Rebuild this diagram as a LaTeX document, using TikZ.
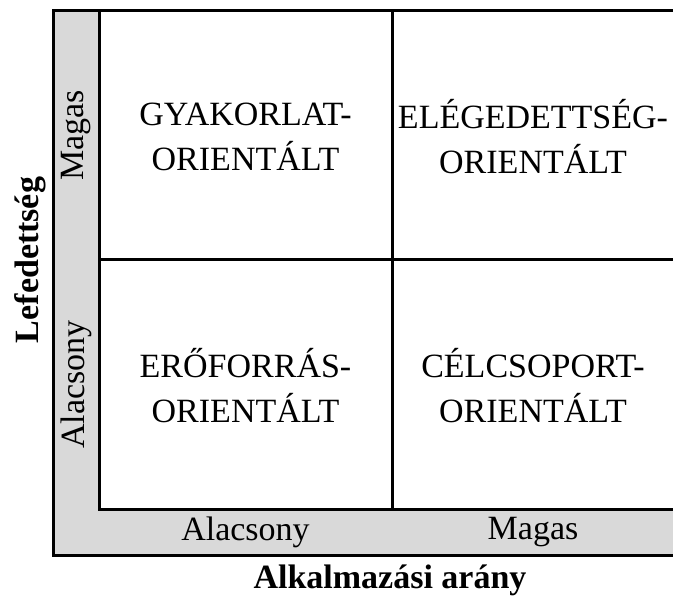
\documentclass[tikz,border=0pt]{standalone}
\usepackage{fontspec}
\setmainfont{Liberation Serif}
\definecolor{bandgray}{RGB}{217,217,217}
\begin{document}
\begin{tikzpicture}[x=1pt,y=-1pt]
\tikzstyle{frame} = [line width=3pt, line cap=rect]
\tikzstyle{cell} = [align=center, inner sep=0pt, font=\fontsize{34}{45}\selectfont]
\tikzstyle{axis} = [inner sep=0pt, font=\fontsize{34}{40}\selectfont]
\tikzstyle{title} = [inner sep=0pt, font=\fontsize{34}{40}\selectfont\bfseries]
\useasboundingbox (0,0) rectangle (673,599);
% grey band around the field
\fill[bandgray] (53,11) rectangle (673,555);
\fill[white] (99,11) rectangle (673,509);
\coordinate (otl) at (53,11);
\coordinate (obl) at (53,555);
\coordinate (obr) at (673,555);
\coordinate (otr) at (673,11);
\coordinate (itl) at (99,11);
\coordinate (ibl) at (99,509);
\coordinate (ibr) at (673,509);
\coordinate (mt) at (392,11);
\coordinate (mb) at (392,509);
\coordinate (ml) at (99,260);
\coordinate (mr) at (673,260);
\draw[frame] (otr) -- (otl) -- (obl) -- (obr);
\draw[frame] (itl) -- (ibl) -- (ibr);
\draw[frame] (mt) -- (mb);
\draw[frame] (ml) -- (mr);
% the four fields
\node[cell] (gyak) at (245.5,137) {GYAKORLAT-\\ORIENTÁLT};
\node[cell] (eleg) at (533,137) {ELÉGEDETTSÉG-\\ORIENTÁLT};
\node[cell] (erof) at (245.5,386) {ERŐFORRÁS-\\ORIENTÁLT};
\node[cell] (celcs) at (533,386) {CÉLCSOPORT-\\ORIENTÁLT};
% scale labels
\node[axis, rotate=90] (ymagas) at (76,135.5) {Magas};
\node[axis, rotate=90] (yalacs) at (76,384.5) {Alacsony};
\node[axis] (xalacs) at (245.5,532) {Alacsony};
\node[axis] (xmagas) at (533,532) {Magas};
% axis titles
\node[title, rotate=90] (ytitle) at (30,260) {Lefedettség};
\node[title] (xtitle) at (390,580) {Alkalmazási arány};
\end{tikzpicture}
\end{document}
